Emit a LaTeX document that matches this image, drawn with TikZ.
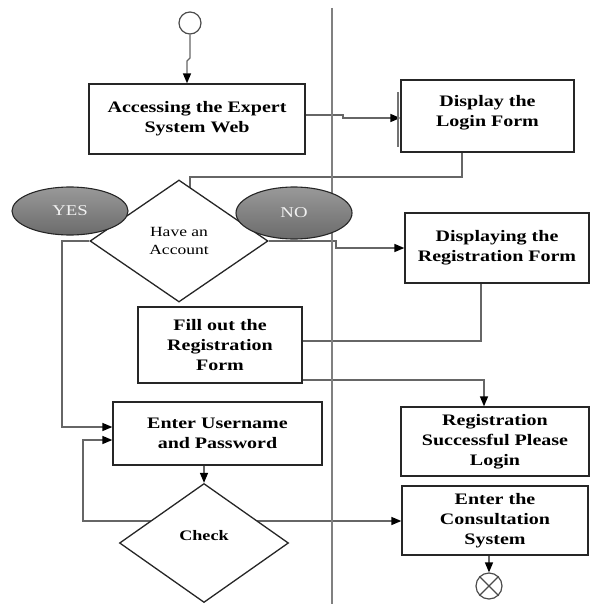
\documentclass[tikz,border=0pt]{standalone}
\usepackage{fontspec}
\setmainfont{Liberation Serif}[FakeStretch=1.25]
\usetikzlibrary{shapes.geometric,arrows.meta,calc,backgrounds}

\begin{document}
\begin{tikzpicture}[x=1pt,y=-1pt,
  box/.style={draw=black!85,line width=1.3pt,fill=white,align=center,inner sep=0pt,
              font=\fontsize{16}{20}\selectfont\bfseries},
  decision/.style={diamond,draw=black!85,line width=1.3pt,fill=white,align=center,inner sep=0pt},
  answer/.style={ellipse,draw=black!85,line width=1.1pt,top color=black!40,bottom color=black!58,
                 text=black!5,inner sep=0pt,font=\fontsize{15}{18}\selectfont},
  wire/.style={draw=black!60,line width=1.4pt},
  arr/.style={wire,-{Triangle[length=10pt,width=8pt,color=black]}},
  lane/.style={draw=black!50,line width=2pt},
  endpoint/.style={circle,draw=black!70,line width=1.2pt,fill=white,inner sep=0pt}
]
\useasboundingbox (0,0) rectangle (595,604);

% swimlane divider
\coordinate (laneTop) at (332,8);
\coordinate (laneBot) at (332,604);
\draw[lane] (laneTop) -- (laneBot);

% start / end
\node[endpoint,minimum size=22pt] (start) at (190,23) {};
\node[endpoint,minimum size=26pt] (stop) at (489,586) {};
\draw[black!70,line width=1.2pt] (stop.north east) -- (stop.south west)
                                 (stop.north west) -- (stop.south east);

% actions
\node[box,minimum width=216pt,minimum height=70pt] (access) at (197,119) {Accessing the Expert\\System Web};
\node[box,minimum width=173pt,minimum height=72pt,text depth=10pt] (login) at (487.5,116) {Display the\\Login Form};
\node[box,minimum width=184pt,minimum height=70pt] (disp) at (497,248) {Displaying the\\Registration Form};
\node[box,minimum width=164pt,minimum height=76pt] (fill) at (220,345) {Fill out the\\Registration\\Form};
\node[box,minimum width=209pt,minimum height=63pt] (user) at (217.5,433.5) {Enter Username\\and Password};
\node[box,minimum width=188pt,minimum height=69pt] (succ) at (495,441.5) {Registration\\Successful Please\\Login};
\node[box,minimum width=186pt,minimum height=69pt] (cons) at (495,520.5) {Enter the\\Consultation\\System};

% decisions
\node[decision,minimum width=178pt,minimum height=122pt,font=\fontsize{14}{18}\selectfont] (acct) at (179,241) {Have an\\Account};
\node[decision,minimum width=169pt,minimum height=119pt,text depth=16pt,
      font=\fontsize{14.5}{18}\selectfont\bfseries] (check) at (204,543) {Check};

% answer labels
\node[answer,minimum width=116pt,minimum height=48pt] (yes) at (70,211) {YES};
\node[answer,minimum width=116pt,minimum height=52pt] (no) at (294,213) {NO};

% thick left edge on the login box
\draw[black!55,line width=2pt] ($(login.north west)+(-2,13)$) -- ($(login.south west)+(-2,-6)$);

% bend points
\coordinate (s1) at (190,58);
\coordinate (s2) at (187,61);
\coordinate (a1) at (343,115);
\coordinate (a2) at (343,118);
\coordinate (l1) at (462,177);
\coordinate (l2) at (190,177);
\coordinate (n1) at (336,241);
\coordinate (n2) at (336,248);
\coordinate (d1) at (481,341);
\coordinate (f1) at (302,380);
\coordinate (f2) at (484,380);
\coordinate (y1) at (62,241);
\coordinate (y2) at (62,427);
\coordinate (c1) at (204,521);
\coordinate (c2) at (83,521);
\coordinate (c3) at (83,440);

\begin{pgfonlayer}{background}
  \draw[arr] (start.south) -- (s1) -- (s2) -- (s2 |- access.north);
  \draw[arr] (access.east |- a1) -- (a1) -- (a2) -- (a2 -| login.west);
  \draw[wire] (l1 |- login.south) -- (l1) -- (l2) -- (l2 |- acct.center);
  \draw[arr] (acct.east) -- (n1) -- (n2) -- (n2 -| disp.west);
  \draw[wire] (d1 |- disp.south) -- (d1) -- (d1 -| fill.east);
  \draw[arr] (f1) -- (f2) -- (f2 |- succ.north);
  \draw[arr] (acct.west) -- (y1) -- (y2) -- (y2 -| user.west);
  \draw[arr] (check.north |- user.south) -- (check.north);
  \draw[arr] (c1) -- (c2) -- (c3) -- (c3 -| user.west);
  \draw[arr] (c1) -- (c1 -| cons.west);
  \draw[arr] (stop.north |- cons.south) -- (stop.north);
\end{pgfonlayer}
\end{tikzpicture}
\end{document}
